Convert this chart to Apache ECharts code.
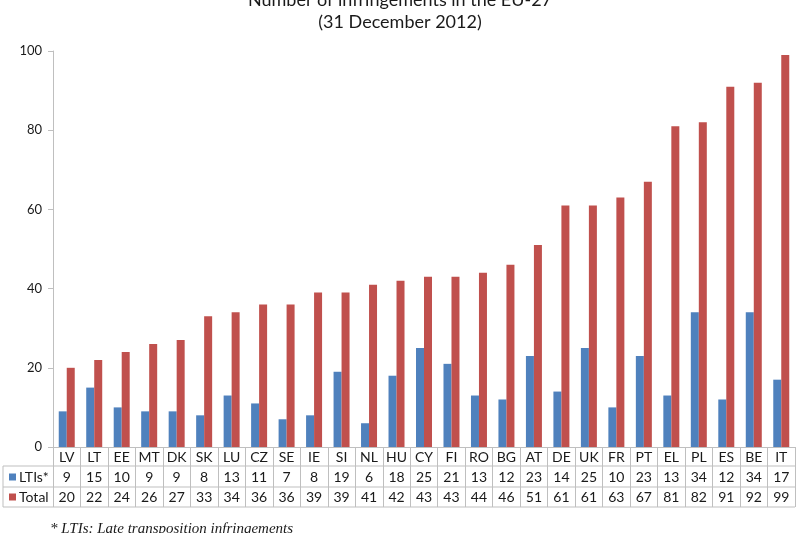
<!DOCTYPE html>
<html>
<head>
<meta charset="utf-8">
<script src="https://cdn.jsdelivr.net/npm/echarts@6/dist/echarts.min.js"></script>
<style>
  html, body { margin: 0; padding: 0; background: #fff; }
  #chart { width: 800px; height: 533px; }
</style>
</head>
<body>
<div id="chart"></div>
<script>
// data
var countries = ['LV', 'LT', 'EE', 'MT', 'DK', 'SK', 'LU', 'CZ', 'SE', 'IE', 'SI', 'NL', 'HU', 'CY',
  'FI', 'RO', 'BG', 'AT', 'DE', 'UK', 'FR', 'PT', 'EL', 'PL', 'ES', 'BE', 'IT'];
var ltis = [9, 15, 10, 9, 9, 8, 13, 11, 7, 8, 19, 6, 18, 25, 21, 13, 12, 23, 14, 25, 10, 23, 13, 34, 12, 34, 17];
var totals = [20, 22, 24, 26, 27, 33, 34, 36, 36, 39, 39, 41, 42, 43, 43, 44, 46, 51, 61, 61, 63, 67, 81, 82, 91, 92, 99];
var yTicks = [0, 20, 40, 60, 80, 100];

var FONT = 'Lato, "Open Sans", sans-serif';
var LINE = '#bfbfbf';

// table geometry (pixels)
var gridLeft = 53, gridRight = 5, gridBottom = 86;
var axisY = 533 - gridBottom;
var rowH = 20;
var tableLeft = 3, tableRight = 800 - gridRight;

var chart = echarts.init(document.getElementById('chart'));

function hline(y) {
  return { type: 'line', silent: true,
    shape: { x1: tableLeft, y1: y, x2: tableRight, y2: y },
    style: { stroke: LINE, lineWidth: 1 } };
}

var option = {
  backgroundColor: '#fff',
  animation: false,
  title: {
    text: 'Number of infringements in the EU-27\n(31 December 2012)',
    left: 'center',
    top: -11,
    padding: 0,
    textStyle: { fontFamily: FONT, fontSize: 18, fontWeight: 'normal', color: '#1a1a1a', lineHeight: 22 }
  },
  legend: {
    orient: 'vertical',
    left: 9,
    top: axisY + rowH + 3,
    padding: 0,
    itemWidth: 7,
    itemHeight: 7,
    itemGap: 6,
    icon: 'rect',
    textStyle: { fontFamily: FONT, fontSize: 14, color: '#1a1a1a', padding: [0, 0, 0, -2], lineHeight: 14 },
    data: ['LTIs*', 'Total']
  },
  grid: { left: gridLeft, right: gridRight, top: 51, bottom: gridBottom },
  xAxis: {
    type: 'category',
    data: countries,
    axisLine: { lineStyle: { color: LINE } },
    axisTick: { show: true, interval: 0, length: rowH * 3, lineStyle: { color: LINE } },
    axisLabel: {
      interval: 0,
      margin: 0,
      fontFamily: FONT,
      fontSize: 14,
      color: '#1a1a1a',
      lineHeight: rowH + 0.3,
      formatter: function (v, i) {
        return v + '\n' + ltis[i] + '\n' + totals[i];
      }
    }
  },
  yAxis: {
    type: 'value',
    min: yTicks[0],
    max: yTicks[yTicks.length - 1],
    interval: 20,
    axisLine: { show: true, lineStyle: { color: LINE } },
    axisTick: { show: true, length: 5, lineStyle: { color: LINE } },
    splitLine: { show: false },
    axisLabel: { fontFamily: FONT, fontSize: 13, color: '#1a1a1a', margin: 11 }
  },
  series: [
    {
      name: 'LTIs*',
      type: 'bar',
      data: ltis,
      barWidth: 8,
      barGap: '0%',
      itemStyle: { color: '#4f81bd' }
    },
    {
      name: 'Total',
      type: 'bar',
      data: totals,
      barWidth: 8,
      itemStyle: { color: '#c0504d' }
    }
  ],
  graphic: [
    hline(axisY + rowH - 1),
    hline(axisY + rowH * 2),
    hline(axisY + rowH * 3),
    { type: 'line', silent: true,
      shape: { x1: tableLeft, y1: axisY + rowH - 1, x2: tableLeft, y2: axisY + rowH * 3 },
      style: { stroke: LINE, lineWidth: 1 } },
    { type: 'text', silent: true, left: 50, top: 522,
      style: { text: '* LTIs: Late transposition infringements',
        font: 'italic 15px "Liberation Serif", "DejaVu Serif", serif', fill: '#1a1a1a' } }
  ]
};

chart.setOption(option);
</script>
</body>
</html>
